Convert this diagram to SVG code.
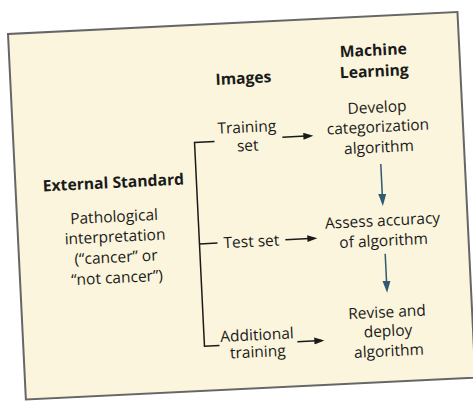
<svg xmlns="http://www.w3.org/2000/svg" width="473" height="401" viewBox="0 0 473 401">
  <style>
    text { font-family: "Open Sans", "Noto Sans", "DejaVu Sans", sans-serif; fill: #1a1a1a; text-anchor: middle; }
    .h { font-size: 15.7px; font-weight: bold; }
    .b { font-size: 15.5px; }
    .k { fill: none; stroke: #1a1a1a; stroke-width: 1.5; }
    .t { fill: none; stroke: #2f5a72; stroke-width: 1.5; }
  </style>
  <defs>
    <marker id="ak" markerUnits="userSpaceOnUse" markerWidth="11" markerHeight="8" refX="7" refY="3.5" orient="auto">
      <path d="M0,0 L10,3.5 L0,7 z" fill="#1a1a1a"/>
    </marker>
    <marker id="at" markerUnits="userSpaceOnUse" markerWidth="13" markerHeight="9" refX="9" refY="4" orient="auto">
      <path d="M0,0 L12,4 L0,8 z" fill="#2f5a72"/>
    </marker>
  </defs>
  <rect width="473" height="401" fill="#ffffff"/>
  <g transform="translate(8,34) rotate(-2.8)">
    <rect id="frame" x="0" y="0" width="450" height="366" fill="#faf5dc" stroke="#666666" stroke-width="2"/>
    <g id="header-ml">
      <text class="h" x="364" y="39.5">Machine</text>
      <text class="h" x="364" y="60.5">Learning</text>
    </g>
    <g id="header-images">
      <text class="h" x="233" y="61">Images</text>
    </g>
    <g id="external-standard">
      <text class="h" x="98" y="159">External Standard</text>
      <text class="b" x="97" y="193">Pathological</text>
      <text class="b" x="97" y="213">interpretation</text>
      <text class="b" x="97" y="233.5">(“cancer” or</text>
      <text class="b" x="97" y="254">“not cancer”)</text>
    </g>
    <g id="training-set">
      <text class="b" x="234" y="110">Training</text>
      <text class="b" x="234" y="128.5">set</text>
    </g>
    <g id="test-set">
      <text class="b" x="233" y="224.5">Test set</text>
    </g>
    <g id="additional-training">
      <text class="b" x="234" y="318">Additional</text>
      <text class="b" x="234" y="335">training</text>
    </g>
    <g id="develop">
      <text class="b" x="365" y="96.5">Develop</text>
      <text class="b" x="365" y="116">categorization</text>
      <text class="b" x="365" y="136.5">algorithm</text>
    </g>
    <g id="assess">
      <text class="b" x="365" y="210">Assess accuracy</text>
      <text class="b" x="365" y="230">of algorithm</text>
    </g>
    <g id="revise">
      <text class="b" x="365" y="301.5">Revise and</text>
      <text class="b" x="365" y="320.5">deploy</text>
      <text class="b" x="365" y="340.5">algorithm</text>
    </g>
    <g id="connectors">
      <path class="k" d="M201,117.5 H181 V321.5 H196"/>
      <path class="k" d="M181,219 H199"/>
      <path class="k" d="M269,116.5 H297" marker-end="url(#ak)"/>
      <path class="k" d="M267,219 H296" marker-end="url(#ak)"/>
      <path class="k" d="M274,321.5 H298" marker-end="url(#ak)"/>
      <path class="t" d="M366,148 V187" marker-end="url(#at)"/>
      <path class="t" d="M366,238 V274" marker-end="url(#at)"/>
    </g>
  </g>
</svg>
